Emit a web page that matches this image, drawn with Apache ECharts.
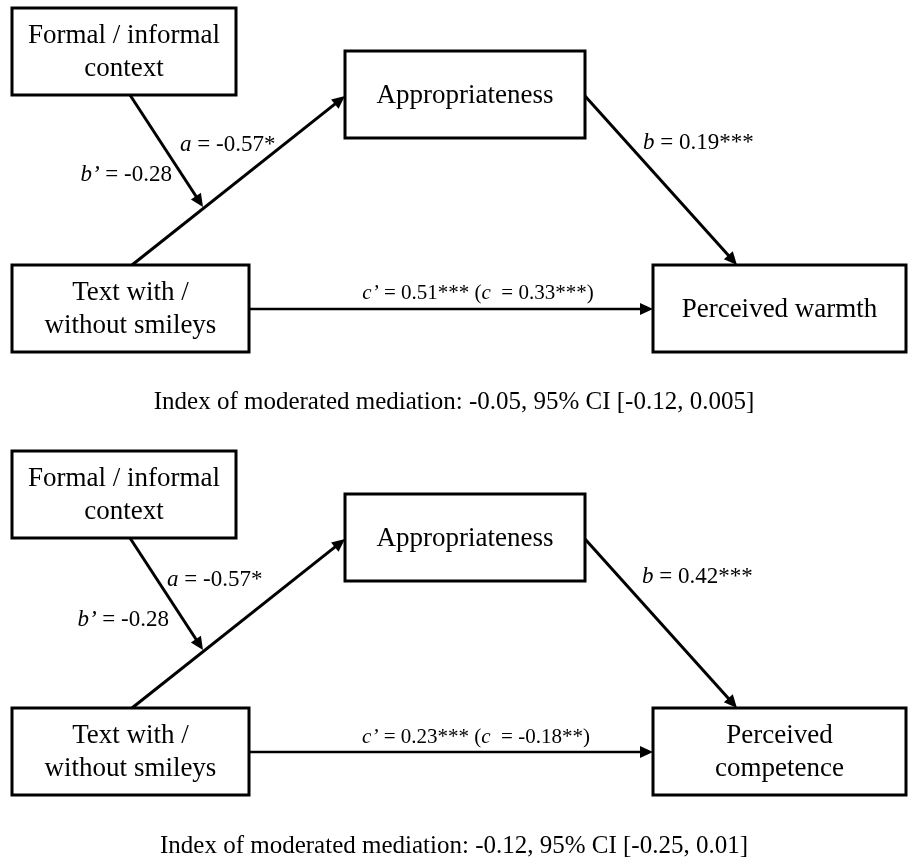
<!DOCTYPE html>
<html>
<head>
<meta charset="utf-8">
<title>Moderated mediation</title>
<script src="https://cdn.jsdelivr.net/npm/echarts@6/dist/echarts.min.js"></script>
<style>
  html, body { margin: 0; padding: 0; background: #fff; }
  #main { width: 909px; height: 863px; }
</style>
</head>
<body>
<div id="main"></div>
<script>
// ---- data (one entry per panel: warmth, competence) ----
const moderatorName = 'Formal / informal\ncontext';
const mediatorName = 'Appropriateness';
const predictorName = 'Text with /\nwithout smileys';
const outcomeNames = ['Perceived warmth', 'Perceived\ncompetence'];

const pathA = ['-0.57', '-0.57'];
const starsA = ['*', '*'];
const pathBPrime = ['-0.28', '-0.28'];
const pathB = ['0.19', '0.42'];
const starsB = ['***', '***'];
const pathCPrime = ['0.51', '0.23'];
const starsCPrime = ['***', '***'];
const pathC = ['0.33', '-0.18'];
const starsC = ['***', '**'];

const indexMM = ['-0.05', '-0.12'];
const ciLower = ['-0.12', '-0.25'];
const ciUpper = ['0.005', '0.01'];

// ---- layout (axis units = pixels of the figure) ----
const panelTop = [0, 443];
const boxLayout = {
  moderator: [12, 8, 236, 95],
  mediator: [345, 51, 585, 138],
  predictor: [12, 265, 249, 352],
  outcome: [653, 265, 906, 352]
};
const arrowLayout = {
  a: [132, 265, 345, 96],
  mod: [130, 95, 203, 207],
  b: [585, 96, 737, 265],
  c: [249, 309, 653, 309]
};
// label anchor points per panel
const labelA = [[180, 145], [167, 137]];
const labelBPrime = [[172, 175], [169, 177]];
const labelB = [[643, 143], [642, 134]];
const labelC = [[478, 293], [476, 294]];
const labelIndex = [[454, 402], [454, 403]];

const FONT = '"Liberation Serif", "Times New Roman", serif';

// build items
const boxItems = [];
const arrowItems = [];
const textItems = [];
panelTop.forEach(function (top, p) {
  const names = {
    moderator: moderatorName,
    mediator: mediatorName,
    predictor: predictorName,
    outcome: outcomeNames[p]
  };
  Object.keys(boxLayout).forEach(function (k) {
    const b = boxLayout[k];
    boxItems.push({ name: names[k], value: [b[0], b[1] + top, b[2], b[3] + top] });
  });
  Object.keys(arrowLayout).forEach(function (k) {
    const a = arrowLayout[k];
    arrowItems.push({ name: k, value: [a[0], a[1] + top, a[2], a[3] + top], width: k === 'c' ? 2.6 : 3 });
  });
  textItems.push({
    text: '{i|a} = ' + pathA[p] + starsA[p],
    value: [labelA[p][0], labelA[p][1] + top], align: 'left', size: 23
  });
  textItems.push({
    text: '{i|b\u2019} = ' + pathBPrime[p],
    value: [labelBPrime[p][0], labelBPrime[p][1] + top], align: 'right', size: 23
  });
  textItems.push({
    text: '{i|b} = ' + pathB[p] + starsB[p],
    value: [labelB[p][0], labelB[p][1] + top], align: 'left', size: 23
  });
  textItems.push({
    text: '{i|c\u2019} = ' + pathCPrime[p] + starsCPrime[p] + ' ({i|c}  = ' + pathC[p] + starsC[p] + ')',
    value: [labelC[p][0], labelC[p][1] + top], align: 'center', size: 21
  });
  textItems.push({
    text: 'Index of moderated mediation: ' + indexMM[p] + ', 95% CI [' + ciLower[p] + ', ' + ciUpper[p] + ']',
    value: [labelIndex[p][0], labelIndex[p][1] + top], align: 'center', size: 25
  });
});

const chart = echarts.init(document.getElementById('main'));

chart.setOption({
  backgroundColor: '#fff',
  animation: false,
  grid: { left: 0, right: 0, top: 0, bottom: 0 },
  xAxis: { type: 'value', min: 0, max: 909, show: false },
  yAxis: { type: 'value', min: 0, max: 863, inverse: true, show: false },
  series: [
    {
      type: 'custom',
      name: 'boxes',
      coordinateSystem: 'cartesian2d',
      encode: { x: [0, 2], y: [1, 3] },
      data: boxItems.map(function (d) { return d.value; }),
      renderItem: function (params, api) {
        const p0 = api.coord([api.value(0), api.value(1)]);
        const p1 = api.coord([api.value(2), api.value(3)]);
        return {
          type: 'group',
          children: [
            {
              type: 'rect',
              shape: { x: p0[0], y: p0[1], width: p1[0] - p0[0], height: p1[1] - p0[1] },
              style: { fill: '#fff', stroke: '#000', lineWidth: 3 }
            },
            {
              type: 'text',
              style: {
                text: boxItems[params.dataIndex].name,
                x: (p0[0] + p1[0]) / 2,
                y: (p0[1] + p1[1]) / 2 + 1,
                align: 'center',
                verticalAlign: 'middle',
                fontFamily: FONT,
                fontSize: 27,
                lineHeight: 33,
                fill: '#000'
              }
            }
          ]
        };
      }
    },
    {
      type: 'custom',
      name: 'paths',
      coordinateSystem: 'cartesian2d',
      encode: { x: [0, 2], y: [1, 3] },
      data: arrowItems.map(function (d) { return d.value; }),
      renderItem: function (params, api) {
        const s = api.coord([api.value(0), api.value(1)]);
        const e = api.coord([api.value(2), api.value(3)]);
        const dx = e[0] - s[0], dy = e[1] - s[1];
        const len = Math.sqrt(dx * dx + dy * dy);
        const ux = dx / len, uy = dy / len;
        const headLen = 13, headHalf = 6;
        const bx = e[0] - ux * headLen, by = e[1] - uy * headLen;
        return {
          type: 'group',
          children: [
            {
              type: 'line',
              shape: { x1: s[0], y1: s[1], x2: bx + ux * 2, y2: by + uy * 2 },
              style: { stroke: '#000', lineWidth: arrowItems[params.dataIndex].width }
            },
            {
              type: 'polygon',
              shape: {
                points: [
                  [e[0], e[1]],
                  [bx - uy * headHalf, by + ux * headHalf],
                  [bx + uy * headHalf, by - ux * headHalf]
                ]
              },
              style: { fill: '#000' }
            }
          ]
        };
      }
    },
    {
      type: 'custom',
      name: 'labels',
      coordinateSystem: 'cartesian2d',
      data: textItems.map(function (d) { return d.value; }),
      renderItem: function (params, api) {
        const t = textItems[params.dataIndex];
        const pt = api.coord([api.value(0), api.value(1)]);
        return {
          type: 'text',
          style: {
            text: t.text,
            x: pt[0],
            y: pt[1],
            align: t.align,
            verticalAlign: 'middle',
            fontFamily: FONT,
            fontSize: t.size,
            fill: '#000',
            rich: {
              i: { fontFamily: FONT, fontSize: t.size, fontStyle: 'italic', fill: '#000' }
            }
          }
        };
      }
    }
  ]
});
</script>
</body>
</html>
